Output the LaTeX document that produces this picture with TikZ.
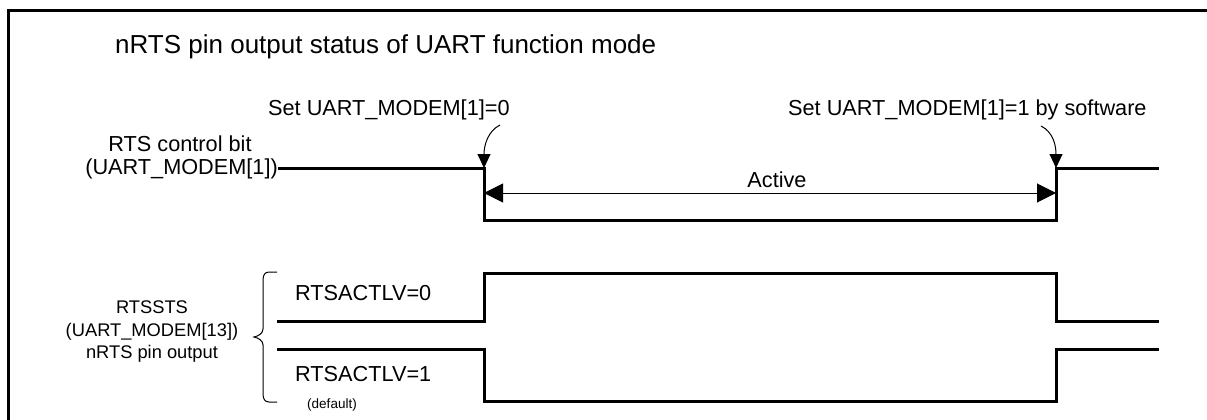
\documentclass[tikz,border=0pt]{standalone}
\usepackage{fontspec}
\setmainfont{Liberation Sans}
\usetikzlibrary{arrows.meta}
\begin{document}
\begin{tikzpicture}[x=1pt,y=-1pt,
  lbl/.style={inner sep=0pt, font=\fontsize{21.7}{24}\selectfont},
  small/.style={inner sep=0pt, font=\fontsize{18.3}{20}\selectfont},
  tiny/.style={inner sep=0pt, font=\fontsize{13.5}{16}\selectfont},
  wave/.style={line width=3pt, line join=miter},
  frame/.style={line width=3pt},
  span/.style={line width=1pt, {Triangle[length=19pt,width=19pt]}-{Triangle[length=19pt,width=19pt]}},
  hint/.style={line width=1pt, -{Triangle[length=14pt,width=13pt]}},
  bracestyle/.style={line width=1pt}]
\useasboundingbox (0,0) rectangle (1207,420);
\fill[white] (0,0) rectangle (1207,420);
% frame (cut off at right and bottom)
\draw[frame] (8,420) -- (8,11) -- (1210,11);
% title
\node[inner sep=0pt, anchor=base west, font=\fontsize{26}{30}\selectfont] (title) at (115,53) {nRTS pin output status of UART function mode};
% top labels
\node[lbl, anchor=base west] (set0) at (268,115) {Set UART\_MODEM[1]=0};
\node[lbl, anchor=base west] (set1) at (788,115) {Set UART\_MODEM[1]=1 by software};
\node[lbl, anchor=base] (rtsA) at (180,151) {RTS control bit};
\node[lbl, anchor=base east] (rtsB) at (278,174) {(UART\_MODEM[1])};
% RTS control waveform
\coordinate (c0) at (278,168);
\coordinate (c1) at (484,168);
\coordinate (c2) at (484,220);
\coordinate (c3) at (1056,220);
\coordinate (c4) at (1056,168);
\coordinate (c5) at (1159,168);
\draw[wave] (c0) -- (c1) -- (c2) -- (c3) -- (c4) -- (c5);
% active span
\coordinate (a1) at (484,193);
\coordinate (a2) at (1056,193);
\draw[span] (a1) -- (a2);
\node[lbl, anchor=base] (active) at (777,187) {Active};
% hint arrows
\coordinate (h0) at (500,125);
\coordinate (h1) at (1041,126);
\draw[hint] (h0) .. controls (488,131) and (484,145) .. (c1);
\draw[hint] (h1) .. controls (1053,132) and (1056,145) .. (c4);
% RTSSTS labels
\node[small, anchor=base] (sts1) at (152,313) {RTSSTS};
\node[small, anchor=base] (sts2) at (152,336) {(UART\_MODEM[13])};
\node[small, anchor=base] (sts3) at (152,358) {nRTS pin output};
% brace
\draw[bracestyle] (277,272) -- (269,272) .. controls (265,272) and (263,275) .. (263,280) -- (263,329)
  .. controls (263,333) and (259,336) .. (254,337)
  .. controls (259,338) and (263,341) .. (263,345) -- (263,394)
  .. controls (263,399) and (265,402) .. (269,402) -- (277,402);
% RTSACTLV=0 waveform
\node[lbl, anchor=base west] (lv0) at (295,300) {RTSACTLV=0};
\coordinate (p0) at (277,321);
\coordinate (p1) at (484,321);
\coordinate (p2) at (484,273);
\coordinate (p3) at (1056,273);
\coordinate (p4) at (1056,321);
\coordinate (p5) at (1159,321);
\draw[wave] (p0) -- (p1) -- (p2) -- (p3) -- (p4) -- (p5);
% RTSACTLV=1 waveform
\node[lbl, anchor=base west] (lv1) at (295,381) {RTSACTLV=1};
\node[tiny, anchor=base] (def) at (332,408) {(default)};
\coordinate (q0) at (277,349);
\coordinate (q1) at (484,349);
\coordinate (q2) at (484,401);
\coordinate (q3) at (1056,401);
\coordinate (q4) at (1056,349);
\coordinate (q5) at (1159,349);
\draw[wave] (q0) -- (q1) -- (q2) -- (q3) -- (q4) -- (q5);
\end{tikzpicture}
\end{document}
